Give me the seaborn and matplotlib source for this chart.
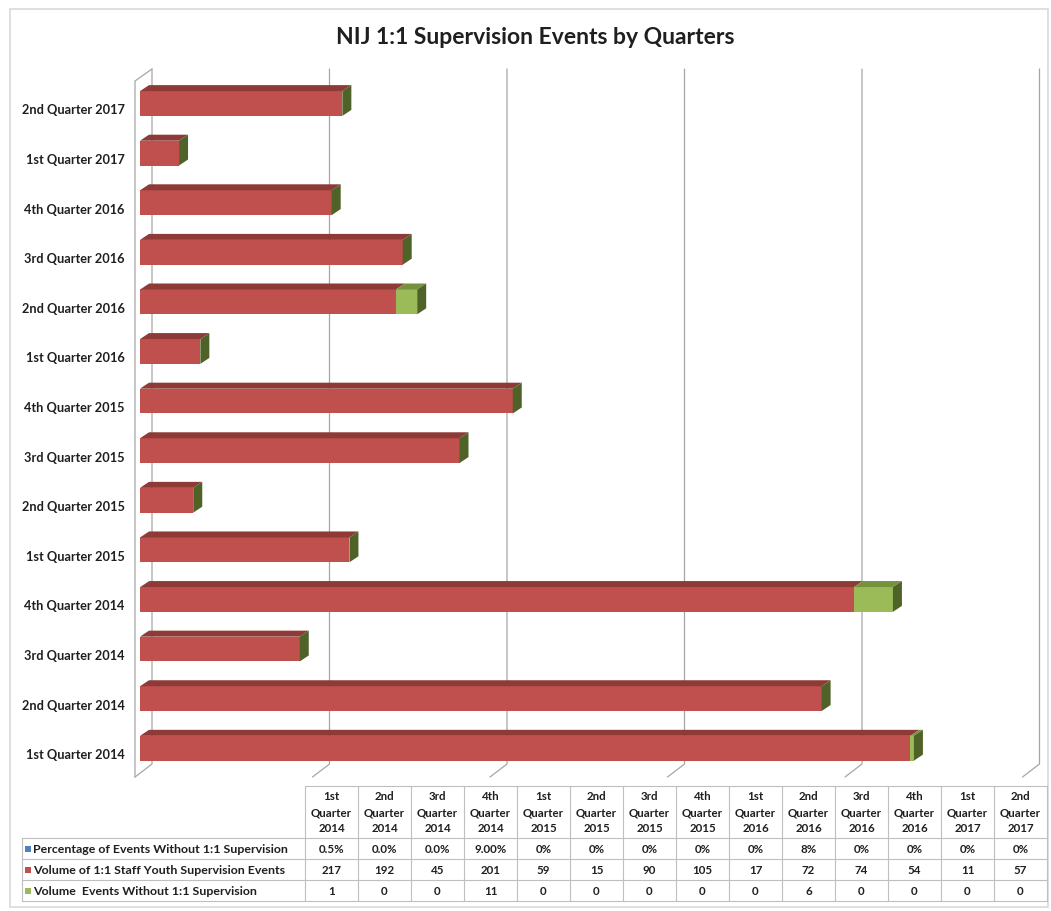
import numpy as np
import pandas as pd
import matplotlib
matplotlib.use("Agg")
import matplotlib.pyplot as plt
from matplotlib.patches import Polygon, Rectangle
from matplotlib.lines import Line2D
import seaborn as sns

# ---------------- data ----------------
quarters = [
    "1st Quarter 2014", "2nd Quarter 2014", "3rd Quarter 2014", "4th Quarter 2014",
    "1st Quarter 2015", "2nd Quarter 2015", "3rd Quarter 2015", "4th Quarter 2015",
    "1st Quarter 2016", "2nd Quarter 2016", "3rd Quarter 2016", "4th Quarter 2016",
    "1st Quarter 2017", "2nd Quarter 2017",
]
pct_values = [0.005, 0.0, 0.0, 0.09, 0.0, 0.0, 0.0, 0.0, 0.0, 0.08, 0.0, 0.0, 0.0, 0.0]
pct_labels = ["0.5%", "0.0%", "0.0%", "9.00%", "0%", "0%", "0%", "0%",
              "0%", "8%", "0%", "0%", "0%", "0%"]
volume = [217, 192, 45, 201, 59, 15, 90, 105, 17, 72, 74, 54, 11, 57]
without = [1, 0, 0, 11, 0, 0, 0, 0, 0, 6, 0, 0, 0, 0]
series_names = [
    "Percentage of Events Without 1:1 Supervision",
    "Volume of 1:1 Staff Youth Supervision Events",
    "Volume  Events Without 1:1 Supervision",
]
value_ticks = [0, 50, 100, 150, 200, 250]
title = "NIJ 1:1 Supervision Events by Quarters"

# ---------------- style ----------------
BLUE = "#4F81BD"
RED, RED_TOP = "#C0504D", "#8E3A37"
GREEN, GREEN_TOP, GREEN_SIDE = "#9BBB59", "#76923C", "#4F6228"
GRID = "#A6A6A6"
TEXT = "#1F1F1F"

sns.set_theme(style="white")
plt.rcParams["font.family"] = ["Lato", "DejaVu Sans"]

W, H = 1051, 912
fig = plt.figure(figsize=(W / 100, H / 100), dpi=100)
fig.patch.set_facecolor("white")


def fx(x):
    return x / W


def fy(y):
    return 1 - y / H


# outer chart frame
fig.add_artist(Rectangle((fx(10), fy(908)), fx(1038), 898 / H, transform=fig.transFigure,
                         fill=False, edgecolor="#D9D9D9", linewidth=1.2))

# plot area
ax_left, ax_top, ax_bottom = 140, 70, 778
xmax = value_ticks[-1]
px_per_unit = 3.55
ax = fig.add_axes([fx(ax_left), fy(ax_bottom), (xmax * px_per_unit) / W, (ax_bottom - ax_top) / H])
ax.set_facecolor("none")

df = pd.DataFrame({"quarter": quarters, "pct": pct_values, "volume": volume, "without": without})
df["c1"] = df["pct"]
df["c2"] = df["c1"] + df["volume"]
df["c3"] = df["c2"] + df["without"]
order = quarters[::-1]
BAR_W = 0.5

# stacked bars as layered cumulative totals
for col, color in [("c3", GREEN), ("c2", RED), ("c1", BLUE)]:
    sns.barplot(data=df, x=col, y="quarter", order=order, orient="h", color=color,
                saturation=1, width=BAR_W, errorbar=None, linewidth=0, ax=ax, zorder=3)

y_top, y_bot = -0.696, 13.58
ax.set_xlim(0, xmax)
ax.set_ylim(y_bot, y_top)
ux = xmax / (xmax * px_per_unit)                 # data units per pixel (x)
uy = (y_bot - y_top) / (ax_bottom - ax_top)      # data units per pixel (y, downward)

# back wall gridlines with floor diagonals
floor_back = y_bot - 13 * uy
for v in value_ticks:
    ax.plot([v + 12 * ux, v + 12 * ux, v - 5 * ux], [y_top, floor_back, y_bot],
            color=GRID, lw=0.9, zorder=0, clip_on=False)
# left side wall edge
ax.plot([12 * ux, -5 * ux, -5 * ux], [y_top, y_top + 12 * uy, y_bot],
        color=GRID, lw=0.9, zorder=0, clip_on=False)

# 3D faces: top strips and end caps
ddx, ddy = 9 * ux, 6 * uy
h = BAR_W / 2
lookup = df.set_index("quarter")
for i, q in enumerate(order):
    row = lookup.loc[q]
    segments = [(0, row["c1"], BLUE), (row["c1"], row["c2"], RED_TOP), (row["c2"], row["c3"], GREEN_TOP)]
    yt = i - h
    for a, b, c in segments:
        if b - a <= 0:
            continue
        ax.add_patch(Polygon([(a, yt), (b, yt), (b + ddx, yt - ddy), (a + ddx, yt - ddy)],
                             closed=True, facecolor=c, edgecolor="none", zorder=4, clip_on=False))
    e = row["c3"]
    ax.add_patch(Polygon([(e, yt), (e + ddx, yt - ddy), (e + ddx, i + h - ddy), (e, i + h)],
                         closed=True, facecolor=GREEN_SIDE, edgecolor="none", zorder=4, clip_on=False))

for s in ax.spines.values():
    s.set_visible(False)
ax.set_xticks([])
ax.set_xlabel("")
ax.set_ylabel("")
ax.set_yticks(np.arange(len(order)) + 0.1)
ax.set_yticklabels(order, fontsize=9.2, fontweight="bold", color=TEXT)
ax.tick_params(axis="y", length=0, pad=11)

# title
fig.text(fx(535), fy(37), title, ha="center", va="center", fontsize=16.5,
         fontweight="bold", color=TEXT)

# ---------------- data table ----------------
tbl_x0, col_w = 305, 53
leg_x0 = 22
row_edges = [787, 839, 860, 881, 902]
tbl_x1 = tbl_x0 + col_w * len(quarters)
line_kw = dict(color="#BFBFBF", lw=0.8, transform=fig.transFigure)

fig.add_artist(Line2D([fx(tbl_x0), fx(tbl_x1)], [fy(row_edges[0])] * 2, **line_kw))
for y in row_edges[1:]:
    fig.add_artist(Line2D([fx(leg_x0), fx(tbl_x1)], [fy(y)] * 2, **line_kw))
fig.add_artist(Line2D([fx(leg_x0)] * 2, [fy(row_edges[1]), fy(row_edges[-1])], **line_kw))
for k in range(len(quarters) + 1):
    x = tbl_x0 + k * col_w
    fig.add_artist(Line2D([fx(x)] * 2, [fy(row_edges[0]), fy(row_edges[-1])], **line_kw))

# column headers
for k, q in enumerate(quarters):
    cx = tbl_x0 + (k + 0.5) * col_w
    for j, part in enumerate(q.split(" ")):
        fig.text(fx(cx), fy(797 + j * 16), part, ha="center", va="center",
                 fontsize=8.3, fontweight="bold", color=TEXT)

# series rows
row_values = [pct_labels, [str(v) for v in volume], [str(v) for v in without]]
for r, (name, color, vals) in enumerate(zip(series_names, [BLUE, RED, GREEN], row_values)):
    cy = (row_edges[r + 1] + row_edges[r + 2]) / 2
    fig.add_artist(Rectangle((fx(25), fy(cy + 3)), 6 / W, 6 / H, transform=fig.transFigure,
                             facecolor=color, edgecolor="none"))
    fig.text(fx(33), fy(cy), name, ha="left", va="center", fontsize=8.9,
             fontweight="bold", color=TEXT)
    for k, v in enumerate(vals):
        fig.text(fx(tbl_x0 + (k + 0.5) * col_w), fy(cy), v, ha="center", va="center",
                 fontsize=8.3, fontweight="bold", color=TEXT)

fig.savefig("out.png", dpi=100, facecolor="white")
